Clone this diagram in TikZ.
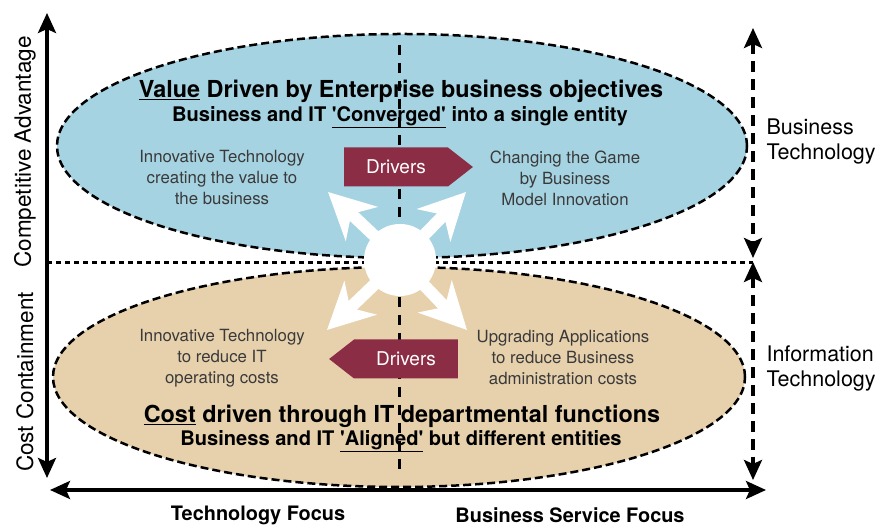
\documentclass[tikz,border=0pt]{standalone}
\usepackage{fontspec}
\setmainfont{TeX Gyre Heros}
\usetikzlibrary{arrows.meta,positioning,shapes.geometric,shapes.symbols}
\definecolor{valueblue}{HTML}{A6D3E2}
\definecolor{costtan}{HTML}{E7D1AC}
\definecolor{driverred}{HTML}{8A2D45}
\definecolor{softink}{HTML}{3A3A3A}
\newcommand{\sq}{\textquotesingle}

\begin{document}
\begin{tikzpicture}[x=1pt,y=1pt,>=Stealth]
\tikzset{zone/.style={draw=black, ellipse, line width=2.5pt, dash pattern=on 8pt off 4pt, inner sep=0pt}, axisline/.style={line width=3.5pt, {Stealth[length=20pt,width=18pt,inset=4pt]}-{Stealth[length=20pt,width=18pt,inset=4pt]}}, scopeline/.style={axisline, dash pattern=on 11pt off 7pt}, burst/.style={draw=white, line width=12pt, -{Stealth[length=46pt,width=46pt,inset=14pt]}}, drv/.style={signal, fill=driverred, text=white, font=\fontsize{19}{21}\selectfont, minimum height=39pt, inner xsep=22pt, signal pointer angle=76}, note/.style={align=center, text=softink, font=\fontsize{16.8}{21}\selectfont}, headline/.style={align=center, font=\bfseries\fontsize{23.4}{25}\selectfont}, subline/.style={align=center, font=\bfseries\fontsize{20.1}{22}\selectfont}, sidelabel/.style={align=left, anchor=west, font=\fontsize{21.5}{25}\selectfont}, axislabel/.style={font=\fontsize{22.5}{24}\selectfont}, focus/.style={font=\bfseries\fontsize{19.9}{22}\selectfont}}
\useasboundingbox (0,0) rectangle (893,526);
% the two zones
\node[zone, fill=valueblue, minimum width=690pt, minimum height=224pt] (valuezone) at (402,380) {};
\node[zone, fill=costtan, minimum width=692pt, minimum height=220pt] (costzone) at (399,149) {};
% axes and guide lines
\coordinate (ca top) at (47,513); \coordinate (ca bot) at (47,48);
\coordinate (fx left) at (50,36); \coordinate (fx right) at (766,36);
\coordinate (bt top) at (753,498); \coordinate (bt bot) at (753,268);
\coordinate (it top) at (753,264); \coordinate (it bot) at (753,46);
\coordinate (mid left) at (47,263); \coordinate (mid right) at (753,263);
\coordinate (split top) at (399,481); \coordinate (split bot) at (399,53);
\draw[line width=3pt, dash pattern=on 5pt off 4pt] (mid left) -- (mid right);
\draw[line width=3pt, dash pattern=on 10pt off 8pt] (split top) -- (split bot);
\draw[axisline] (ca top) -- (ca bot);
\draw[axisline] (fx left) -- (fx right);
\draw[scopeline] (bt top) -- (bt bot);
\draw[scopeline] (it top) -- (it bot);
% hub with four outgoing arrows
\node[circle, fill=white, minimum size=72pt, inner sep=0pt] (hub) at (400,266) {};
\coordinate (tip ul) at (328,334); \coordinate (tip ur) at (466,334);
\coordinate (tip ll) at (327,196); \coordinate (tip lr) at (467,196);
\foreach \t in {ul,ur,ll,lr} \draw[burst] (hub.center) -- (tip \t);
\node[drv, signal to=east] (drvup) at (396,359) {Drivers};
\node[drv, signal to=west] (drvdown) at (406,167) {Drivers};
% texts
\node[headline] (valuehead) at (401,435) {\underline{Value} Driven by Enterprise business objectives};
\node[subline] (valuesub) at (400,409) {Business and IT \underline{\sq Converged\sq} into a single entity};
\node[note] (innovalue) at (222,348) {Innovative Technology\\creating the value to\\the business};
\node[note] (gamechange) at (565,348) {Changing the Game\\by Business\\Model Innovation};
\node[note] (innocost) at (222,168) {Innovative Technology\\to reduce IT\\operating costs};
\node[note] (upgrade) at (563,168) {Upgrading Applications\\to reduce Business\\administration costs};
\node[headline] (costhead) at (402,110) {\underline{Cost} driven through IT departmental functions};
\node[subline] (costsub) at (401,85) {Business and IT \underline{\sq Aligned\sq} but different entities};
\node[sidelabel] (bizlabel) at (763,384) {Business\\Technology};
\node[sidelabel] (infolabel) at (763,158) {Information\\Technology};
\node[axislabel, rotate=90] (advlabel) at (25,374) {Competitive Advantage};
\node[axislabel, rotate=90] (costlabel) at (25,144) {Cost Containment};
\node[focus] (techfocus) at (258,11) {Technology Focus};
\node[focus] (servfocus) at (570,11) {Business Service Focus};
\end{tikzpicture}
\end{document}
